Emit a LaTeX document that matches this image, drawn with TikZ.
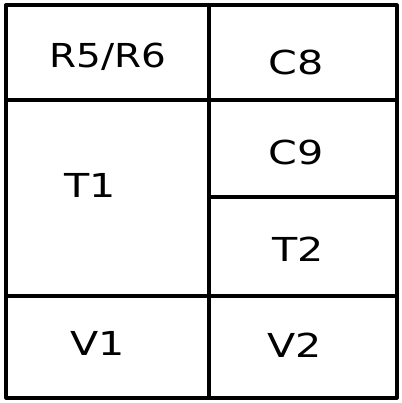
\documentclass[tikz,border=0pt]{standalone}
\usepackage{fontspec}
\setmainfont{DejaVu Sans}
\begin{document}
\begin{tikzpicture}[x=1pt,y=1pt,
  grid/.style={line width=3.2pt, line cap=round, line join=round},
  lab/.style={font=\fontsize{33}{33}\selectfont, inner sep=0pt}]
\useasboundingbox (0,0) rectangle (401,403);
\draw[grid] (6,398) rectangle (397,5);
\draw[grid] (209,398) -- (209,5);
\draw[grid] (6,303) -- (397,303);
\draw[grid] (209,206) -- (397,206);
\draw[grid] (6,107) -- (397,107);
\node[lab] (r) at (108,346) {\scalebox{1.18}[1]{R5/R6}};
\node[lab] (c8) at (296,341) {\scalebox{1.25}[1]{C8}};
\node[lab] (c9) at (296,251) {\scalebox{1.25}[1]{C9}};
\node[lab] (t1) at (90,218) {\scalebox{1.25}[1]{T1}};
\node[lab] (t2) at (298,154) {\scalebox{1.25}[1]{T2}};
\node[lab] (v1) at (98,60) {\scalebox{1.25}[1]{V1}};
\node[lab] (v2) at (295,58) {\scalebox{1.25}[1]{V2}};
\end{tikzpicture}
\end{document}
